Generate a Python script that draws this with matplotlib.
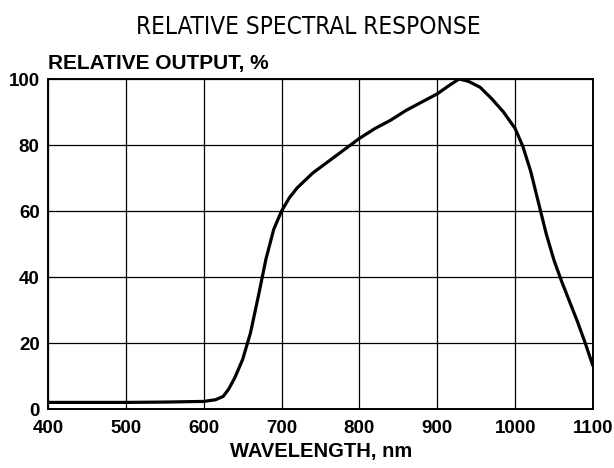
import matplotlib
matplotlib.use("Agg")
import matplotlib.pyplot as plt

# relative spectral response
wavelength = [400, 450, 500, 550, 600, 615, 625, 632, 640, 650, 660, 670, 680, 690, 700,
              710, 720, 740, 760, 780, 800, 820, 840, 860, 880, 900, 915, 928, 940,
              955, 970, 985, 1000, 1010, 1020, 1030, 1040, 1050, 1060, 1070, 1080, 1090, 1100]
output = [2.0, 2.0, 2.0, 2.1, 2.3, 2.8, 3.8, 6.0, 9.5, 15.0, 23.0, 34.0, 45.5, 54.5, 60.0,
          64.0, 67.0, 71.5, 75.0, 78.5, 82.0, 85.0, 87.5, 90.5, 93.0, 95.5, 98.0, 100.0, 99.3,
          97.5, 94.0, 90.0, 85.0, 79.5, 72.0, 62.5, 53.0, 45.0, 38.5, 32.5, 26.5, 20.0, 13.0]

x_ticks = [400, 500, 600, 700, 800, 900, 1000, 1100]
y_ticks = [0, 20, 40, 60, 80, 100]

bold = dict(family=["Liberation Sans", "DejaVu Sans"], fontweight="bold")

fig = plt.figure(figsize=(6.14, 4.68), dpi=100)
W, H = 614, 468
ax = fig.add_axes([48 / W, 1 - 409 / H, (593 - 48) / W, (409 - 79) / H])

ax.plot(wavelength, output, color="black", linewidth=2.3, solid_capstyle="butt")
ax.set_xlim(400, 1100)
ax.set_ylim(0, 100)
ax.set_xticks(x_ticks)
ax.set_yticks(y_ticks)
ax.set_xticklabels([str(v) for v in x_ticks], fontsize=13.5, **bold)
ax.set_yticklabels([str(v) for v in y_ticks], fontsize=13.5, **bold)
ax.tick_params(axis="x", length=0, pad=8)
ax.tick_params(axis="y", length=0, pad=6)
ax.grid(True, color="black", linewidth=0.9)
for s in ax.spines.values():
    s.set_linewidth(1.4)

fig.text(308 / W, 1 - 27 / H, "RELATIVE SPECTRAL RESPONSE", ha="center", va="center",
         fontsize=17.5, fontstretch="condensed",
         family=["DejaVu Sans", "Liberation Sans"])
fig.text(48 / W, 1 - 63 / H, "RELATIVE OUTPUT, %", ha="left", va="center", fontsize=15, **bold)
fig.text(321 / W, 1 - 452 / H, "WAVELENGTH, nm", ha="center", va="center", fontsize=14.5, **bold)

fig.savefig("out.png", dpi=100)
